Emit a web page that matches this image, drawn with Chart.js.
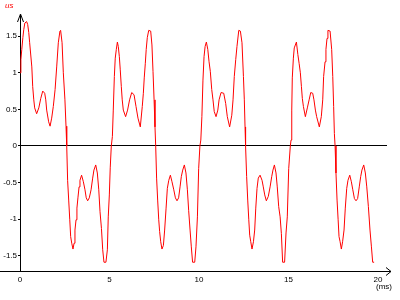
<!DOCTYPE html>
<html>
<head>
<meta charset="utf-8">
<script src="https://cdn.jsdelivr.net/npm/chart.js@4/dist/chart.umd.min.js"></script>
<style>
  html, body { margin: 0; padding: 0; background: #fff; }
  #chart { display: block; }
</style>
</head>
<body>
<canvas id="chart" width="400" height="300"></canvas>
<script>
// time axis (ms) and signal values
const timeMs = [
  0, 0.05, 0.1, 0.16, 0.21, 0.27, 0.37, 0.43, 0.49, 0.54, 0.66, 0.71, 0.77, 0.82, 0.93, 1.05, 1.16, 1.27, 1.38, 1.44,
  1.49, 1.6, 1.68, 1.77, 1.86, 1.96, 2.05, 2.14, 2.23, 2.27, 2.35, 2.42, 2.51, 2.57, 2.61, 2.66, 2.72, 2.78, 2.83, 2.89,
  2.96, 3.02, 3.07, 3.13, 3.18, 3.24, 3.3, 3.35, 3.44, 3.54, 3.63, 3.7, 3.78, 3.87, 3.97, 4.06, 4.13, 4.23, 4.32, 4.4,
  4.47, 4.55, 4.62, 4.69, 4.8, 4.88, 4.93, 4.99, 5.04, 5.1, 5.16, 5.21, 5.27, 5.32, 5.38, 5.44, 5.49, 5.55, 5.6, 5.66,
  5.71, 5.77, 5.9, 6.01, 6.12, 6.24, 6.37, 6.48, 6.59, 6.72, 6.83, 6.89, 6.94, 7.0, 7.05, 7.11, 7.19, 7.3, 7.37, 7.43,
  7.49, 7.54, 7.58, 7.63, 7.69, 7.75, 7.8, 7.86, 7.93, 8.01, 8.08, 8.16, 8.23, 8.31, 8.4, 8.49, 8.59, 8.68, 8.77, 8.86,
  8.94, 9.01, 9.09, 9.18, 9.27, 9.35, 9.42, 9.5, 9.57, 9.64, 9.76, 9.83, 9.91, 9.98, 10.05, 10.1, 10.16, 10.22, 10.28, 10.34,
  10.41, 10.49, 10.56, 10.63, 10.71, 10.78, 10.85, 10.95, 11.05, 11.12, 11.23, 11.38, 11.49, 11.58, 11.71, 11.83, 11.9, 11.97, 12.05, 12.12,
  12.22, 12.31, 12.4, 12.48, 12.53, 12.57, 12.6, 12.66, 12.72, 12.78, 12.83, 12.89, 12.96, 13.04, 13.11, 13.17, 13.24, 13.31, 13.41, 13.52,
  13.59, 13.67, 13.76, 13.87, 13.97, 14.06, 14.13, 14.21, 14.3, 14.37, 14.45, 14.53, 14.6, 14.67, 14.78, 14.86, 14.93, 15.01, 15.1, 15.14,
  15.18, 15.21, 15.27, 15.32, 15.38, 15.44, 15.52, 15.59, 15.66, 15.72, 15.77, 15.83, 15.94, 16.05, 16.15, 16.24, 16.35, 16.42, 16.5, 16.57,
  16.72, 16.83, 16.91, 16.96, 17.04, 17.09, 17.15, 17.2, 17.32, 17.41, 17.47, 17.52, 17.56, 17.6, 17.65, 17.71, 17.77, 17.82, 17.88, 17.95,
  18.02, 18.1, 18.17, 18.25, 18.32, 18.42, 18.51, 18.59, 18.68, 18.77, 18.86, 18.95, 19.03, 19.1, 19.2, 19.29, 19.37, 19.46, 19.55, 19.63,
  19.7, 19.78
];
const voltage = [
  1.0, 1.18, 1.32, 1.48, 1.59, 1.68, 1.70, 1.66, 1.55, 1.41, 1.08, 0.81, 0.63, 0.52, 0.44, 0.52, 0.65, 0.75, 0.72, 0.63,
  0.49, 0.33, 0.27, 0.38, 0.54, 0.77, 1.08, 1.41, 1.57, 1.58, 1.41, 1.0, 0.63, 0.27, 0, -0.47, -0.74, -1.01, -1.24, -1.33,
  -1.41, -1.33, -1.15, -1.01, -0.85, -0.70, -0.56, -0.47, -0.40, -0.49, -0.60, -0.71, -0.75, -0.71, -0.60, -0.44, -0.33, -0.26, -0.37, -0.60,
  -0.90, -1.13, -1.42, -1.59, -1.59, -1.42, -0.97, -0.67, -0.30, 0, 0.13, 0.49, 0.95, 1.2, 1.32, 1.42, 1.36, 1.22, 1.04, 0.81,
  0.63, 0.49, 0.40, 0.49, 0.63, 0.73, 0.70, 0.54, 0.38, 0.26, 0.54, 0.72, 0.93, 1.13, 1.32, 1.48, 1.58, 1.57, 1.38, 1.02,
  0.63, 0.26, 0, -0.44, -0.74, -1.01, -1.17, -1.31, -1.41, -1.36, -1.15, -0.85, -0.58, -0.47, -0.40, -0.49, -0.60, -0.71, -0.75, -0.71,
  -0.56, -0.42, -0.33, -0.26, -0.37, -0.60, -0.88, -1.15, -1.38, -1.59, -1.59, -1.38, -0.97, -0.31, 0, 0.08, 0.40, 0.90, 1.22, 1.36,
  1.42, 1.32, 1.15, 1.02, 0.77, 0.63, 0.47, 0.40, 0.49, 0.63, 0.73, 0.72, 0.58, 0.40, 0.26, 0.42, 0.63, 0.95, 1.18, 1.36,
  1.58, 1.57, 1.41, 0.95, 0.63, 0.26, 0, -0.42, -0.74, -1.01, -1.22, -1.31, -1.41, -1.31, -1.15, -0.85, -0.58, -0.44, -0.40, -0.47,
  -0.56, -0.67, -0.75, -0.69, -0.56, -0.42, -0.33, -0.26, -0.37, -0.56, -0.83, -0.97, -1.20, -1.59, -1.59, -1.19, -0.97, -0.31, 0, 0.08,
  0.49, 0.93, 1.2, 1.34, 1.38, 1.42, 1.25, 1.13, 1.0, 0.81, 0.65, 0.54, 0.40, 0.52, 0.63, 0.73, 0.72, 0.63, 0.49, 0.40,
  0.26, 0.40, 0.63, 0.95, 1.15, 1.32, 1.47, 1.58, 1.57, 1.32, 0.95, 0.54, 0.17, 0, -0.37, -0.74, -1.01, -1.24, -1.31, -1.41,
  -1.31, -1.15, -0.85, -0.58, -0.47, -0.40, -0.49, -0.60, -0.72, -0.75, -0.72, -0.56, -0.42, -0.33, -0.26, -0.37, -0.56, -0.83, -1.15, -1.38,
  -1.59, -1.59
];
const xTicks = [0, 5, 10, 15, 20];
const yTicks = [-1.5, -1, -0.5, 0, 0.5, 1, 1.5];
const yUnit = 'us';
const xUnit = '(ms)';

const tickFont = { family: 'Liberation Sans', size: 8 };

// arrows, left stub of the x axis and unit labels
const axisDecor = {
  id: 'axisDecor',
  afterDraw(chart) {
    const ctx = chart.ctx;
    const a = chart.chartArea;
    ctx.save();
    ctx.strokeStyle = '#000';
    ctx.lineWidth = 1;
    ctx.beginPath();
    // x axis stub left of the y axis, and past the end
    ctx.moveTo(0, a.bottom + 0.5);
    ctx.lineTo(a.right + 4, a.bottom + 0.5);
    // x arrow
    ctx.moveTo(a.right - 1, a.bottom - 3.5);
    ctx.lineTo(a.right + 4, a.bottom + 0.5);
    ctx.lineTo(a.right - 1, a.bottom + 4.5);
    // y arrow
    ctx.moveTo(a.left - 2.5, a.top + 7);
    ctx.lineTo(a.left + 0.5, a.top - 1);
    ctx.lineTo(a.left + 3.5, a.top + 7);
    ctx.stroke();

    ctx.fillStyle = '#ff0000';
    ctx.font = 'italic 8px "Liberation Sans"';
    ctx.textBaseline = 'alphabetic';
    ctx.fillText(yUnit, 5, 8);
    ctx.fillStyle = '#000';
    ctx.font = '8px "Liberation Sans"';
    ctx.fillText(xUnit, 376, 289);
    ctx.restore();
  }
};

new Chart(document.getElementById('chart'), {
  type: 'line',
  data: {
    datasets: [{
      data: timeMs.map((t, i) => ({ x: t, y: voltage[i] })),
      borderColor: '#ff0000',
      borderWidth: 1,
      pointRadius: 0,
      tension: 0,
      fill: false
    }]
  },
  options: {
    responsive: false,
    animation: false,
    events: [],
    layout: { padding: { top: 15, right: 13, left: 0, bottom: 0 } },
    plugins: { legend: { display: false }, tooltip: { enabled: false } },
    scales: {
      x: {
        type: 'linear',
        min: 0,
        max: 20.5,
        afterFit: s => { s.height = 29; },
        afterBuildTicks: s => { s.ticks = xTicks.map(v => ({ value: v })); },
        ticks: { color: '#000', font: tickFont, padding: 4, maxRotation: 0, callback: v => String(v) },
        grid: { display: false, drawTicks: false },
        border: { display: true, color: '#000', width: 1 }
      },
      y: {
        type: 'linear',
        min: -1.71,
        max: 1.79,
        afterFit: s => { s.width = 20; },
        afterBuildTicks: s => { s.ticks = yTicks.map(v => ({ value: v })); },
        ticks: { color: '#000', font: tickFont, padding: 1, callback: v => String(v) },
        grid: {
          drawTicks: true,
          tickLength: 2,
          tickColor: '#000',
          color: c => (c.tick && c.tick.value === 0 ? '#000' : 'rgba(0,0,0,0)'),
          lineWidth: 1
        },
        border: { display: true, color: '#000', width: 1 }
      }
    }
  },
  plugins: [axisDecor]
});
</script>
</body>
</html>
